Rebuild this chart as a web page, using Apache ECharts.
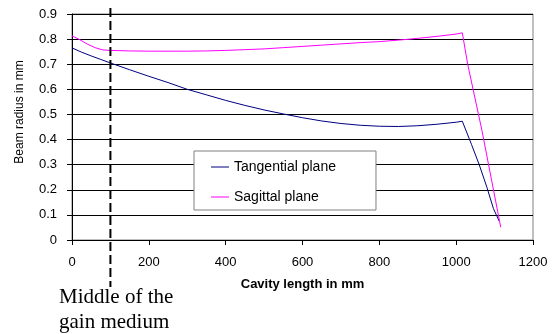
<!DOCTYPE html>
<html>
<head>
<meta charset="utf-8">
<script src="https://cdn.jsdelivr.net/npm/echarts@6/dist/echarts.min.js"></script>
<style>
  html, body { margin: 0; padding: 0; background: #fff; }
  #chart { width: 556px; height: 334px; }
</style>
</head>
<body>
<div id="chart"></div>
<script>
// data
const tangX = [0, 25, 50, 75, 100, 150, 200, 250, 300, 350, 400, 450, 500, 550, 600, 650, 700, 750, 800, 850, 900, 950, 1000, 1016, 1040, 1060, 1080, 1097, 1112]
const tangY = [0.765, 0.748, 0.733, 0.719, 0.705, 0.678, 0.652, 0.627, 0.600, 0.578, 0.556, 0.536, 0.518, 0.502, 0.487, 0.474, 0.464, 0.457, 0.453, 0.452, 0.455, 0.461, 0.469, 0.473, 0.38, 0.30, 0.21, 0.125, 0.075]
const sagX = [0, 20, 40, 60, 80, 100, 150, 200, 250, 300, 350, 400, 450, 500, 550, 600, 650, 700, 750, 800, 850, 900, 950, 1000, 1016, 1030, 1067, 1116]
const sagY = [0.813, 0.798, 0.780, 0.766, 0.757, 0.755, 0.753, 0.752, 0.752, 0.752, 0.753, 0.755, 0.758, 0.761, 0.766, 0.771, 0.776, 0.781, 0.786, 0.790, 0.796, 0.803, 0.811, 0.820, 0.825, 0.70, 0.437, 0.051]
const legendNames = ['Tangential plane', 'Sagittal plane']
const gainMiddle = 100 // mm

const pair = (xs, ys) => xs.map((x, i) => [x, ys[i]])

const chart = echarts.init(document.getElementById('chart'))
const font = 'Liberation Sans, Arial, sans-serif'

const option = {
  backgroundColor: '#fff',
  animation: false,
  grid: {
    left: 72,
    right: 23,
    top: 14,
    bottom: 94,
    show: true,
    borderColor: '#808080',
    borderWidth: 1
  },
  legend: {
    data: legendNames,
    orient: 'vertical',
    left: 194,
    top: 151,
    backgroundColor: '#fff',
    borderColor: '#808080',
    borderWidth: 1,
    borderRadius: 0,
    padding: [9, 40, 6, 17],
    itemGap: 16,
    itemWidth: 18,
    itemHeight: 1,
    icon: 'rect',
    textStyle: {
      color: '#000',
      fontFamily: font,
      fontSize: 14,
      lineHeight: 14
    }
  },
  xAxis: {
    type: 'value',
    min: 0,
    max: 1200,
    interval: 200,
    name: 'Cavity length in mm',
    nameLocation: 'middle',
    nameGap: 38,
    nameTextStyle: {
      color: '#000',
      fontFamily: font,
      fontWeight: 'bold',
      fontSize: 13
    },
    axisLine: { lineStyle: { color: '#000', width: 1 } },
    axisTick: { show: true, length: 5, lineStyle: { color: '#000' } },
    axisLabel: {
      color: '#000',
      fontFamily: font,
      fontSize: 13,
      margin: 16,
      formatter: v => String(v)
    },
    splitLine: { show: false }
  },
  yAxis: {
    type: 'value',
    min: 0,
    max: 0.9,
    interval: 0.1,
    name: 'Beam radius in mm',
    nameLocation: 'middle',
    nameGap: 46,
    nameTextStyle: {
      color: '#000',
      fontFamily: font,
      fontSize: 12,
      padding: [0, 0, 0, 30]
    },
    axisLine: { show: true, lineStyle: { color: '#000', width: 1 } },
    axisTick: { show: true, length: 5, lineStyle: { color: '#000' } },
    axisLabel: {
      color: '#000',
      fontFamily: font,
      fontSize: 13,
      margin: 15,
      formatter: v => (v === 0 ? '0' : v.toFixed(1))
    },
    splitLine: { show: true, lineStyle: { color: '#000', width: 1 } }
  },
  series: [
    {
      name: legendNames[0],
      type: 'line',
      symbol: 'none',
      color: '#000080',
      lineStyle: { width: 1, color: '#000080' },
      data: pair(tangX, tangY)
    },
    {
      name: legendNames[1],
      type: 'line',
      symbol: 'none',
      color: '#ff00ff',
      lineStyle: { width: 1, color: '#ff00ff' },
      data: pair(sagX, sagY)
    }
  ]
}

chart.setOption(option)

// dashed marker for the middle of the gain medium, runs past the plot down to the note
const px = chart.convertToPixel({ xAxisIndex: 0 }, gainMiddle)
chart.setOption({
  graphic: [
    {
      type: 'line',
      shape: { x1: px, y1: 8, x2: px, y2: 287 },
      style: { stroke: '#000', lineWidth: 2, lineDash: [9, 4] },
      z: 10
    },
    {
      type: 'text',
      left: 59,
      top: 285,
      style: {
        text: 'Middle of the\ngain medium',
        font: '21px "Liberation Serif", "Times New Roman", serif',
        fill: '#000',
        lineHeight: 25
      }
    }
  ]
})
</script>
</body>
</html>
